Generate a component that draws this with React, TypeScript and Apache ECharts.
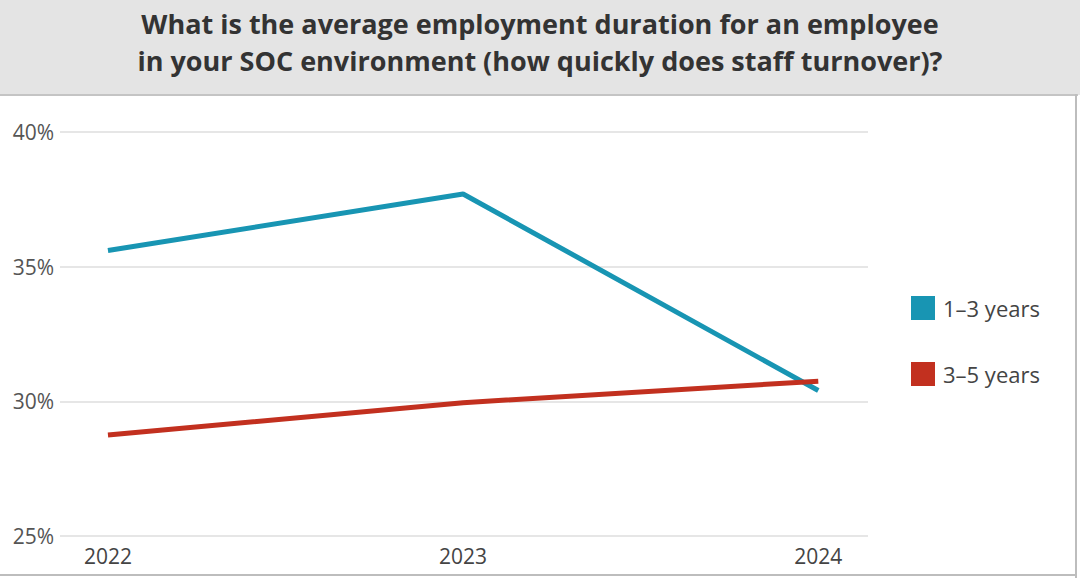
import React, { useEffect, useRef } from "react";
import * as echarts from "echarts";

const years = [2022, 2023, 2024];
const oneToThree = [35.6, 37.7, 30.4];
const threeToFive = [28.75, 29.95, 30.75];
const yTicks = [25, 30, 35, 40];
const titleLines = [
  "What is the average employment duration for an employee",
  "in your SOC environment (how quickly does staff turnover)?",
];
const seriesNames = ["1–3 years", "3–5 years"];
const colors = ["#1895b3", "#c2301f"];

const FONT = "'Liberation Sans Narrow', 'Open Sans', 'Noto Sans', sans-serif";

export default function App() {
  const ref = useRef<HTMLDivElement>(null);
  useEffect(() => {
    if (!ref.current) return;
    const chart = echarts.init(ref.current, null, { renderer: "svg" });
    const toPairs = (arr: number[]) => arr.map((v, i) => [years[i], v]);
    chart.setOption({
      animation: false,
      backgroundColor: "#ffffff",
      textStyle: { fontFamily: FONT },
      graphic: [
        {
          type: "rect",
          shape: { x: 0, y: 0, width: 1080, height: 95 },
          style: { fill: "#e4e4e4" },
          z: -10,
        },
        {
          type: "rect",
          shape: { x: 0, y: 94, width: 1078, height: 2 },
          style: { fill: "#c4c4c4" },
        },
        {
          type: "rect",
          shape: { x: 1075, y: 94, width: 2, height: 484 },
          style: { fill: "#bdbdbd" },
        },
        {
          type: "rect",
          shape: { x: 0, y: 574, width: 1077, height: 2 },
          style: { fill: "#bdbdbd" },
        },
        {
          type: "text",
          x: 540,
          y: 23,
          style: {
            text: titleLines[0],
            fontFamily: FONT,
            fontSize: 27,
            fontWeight: "bold",
            fill: "#333333",
            align: "center",
            verticalAlign: "middle",
          },
        },
        {
          type: "text",
          x: 540,
          y: 60,
          style: {
            text: titleLines[1],
            fontFamily: FONT,
            fontSize: 27,
            fontWeight: "bold",
            fill: "#333333",
            align: "center",
            verticalAlign: "middle",
          },
        },
      ],
      legend: {
        orient: "vertical",
        left: 906,
        top: 291,
        itemWidth: 24,
        itemHeight: 24,
        itemGap: 42,
        icon: "rect",
        textStyle: {
          fontSize: 22,
          color: "#444444",
          fontFamily: FONT,
          padding: [0, 0, 0, 3],
        },
        data: seriesNames,
      },
      grid: { left: 60, right: 212, top: 132, bottom: 42, containLabel: false },
      xAxis: {
        type: "value",
        min: 2021.865,
        max: 2024.14,
        axisLine: { show: false },
        axisTick: { show: false },
        splitLine: { show: false },
        axisLabel: {
          customValues: years,
          formatter: (v: number) => String(v),
          fontSize: 21,
          color: "#444444",
          margin: 9,
          fontFamily: FONT,
        },
      },
      yAxis: {
        type: "value",
        min: 25,
        max: 40,
        interval: 5,
        axisLine: { show: false },
        axisTick: { show: false },
        splitLine: { lineStyle: { color: "#e6e6e6", width: 2 } },
        axisLabel: {
          formatter: (v: number) => v + "%",
          fontSize: 21,
          color: "#555555",
          margin: 6,
          fontFamily: FONT,
        },
      },
      series: [
        {
          name: seriesNames[0],
          type: "line",
          data: toPairs(oneToThree),
          symbol: "none",
          lineStyle: { width: 5, color: colors[0] },
          itemStyle: { color: colors[0] },
        },
        {
          name: seriesNames[1],
          type: "line",
          data: toPairs(threeToFive),
          symbol: "none",
          lineStyle: { width: 5, color: colors[1] },
          itemStyle: { color: colors[1] },
          z: 3,
        },
      ],
    });
    return () => chart.dispose();
  }, []);
  return (
    <div
      ref={ref}
      style={{ position: "absolute", left: 0, top: 0, width: 1080, height: 578 }}
    />
  );
}
